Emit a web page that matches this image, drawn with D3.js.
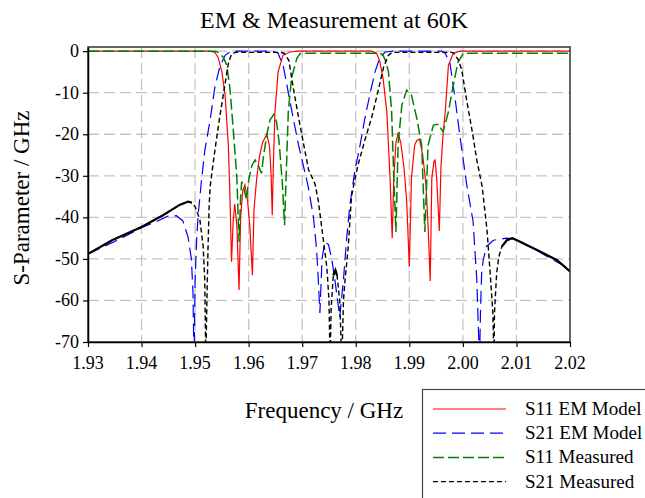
<!DOCTYPE html>
<html>
<head>
<meta charset="utf-8">
<script src="https://cdn.jsdelivr.net/npm/d3@7"></script>
<style>
  body { margin: 0; background: #fff; }
  svg { display: block; }
  text { font-family: "Liberation Serif", "Times New Roman", serif; fill: #000; }
</style>
</head>
<body>
<div id="chart"></div>
<script>
// tick values
var xTicks = [1.93, 1.94, 1.95, 1.96, 1.97, 1.98, 1.99, 2.00, 2.01, 2.02];
var yTicks = [0, -10, -20, -30, -40, -50, -60, -70];

// [frequency GHz, dB]
var s11Em = [[1.9300,0],[1.9525,0],[1.9532,-0.1],[1.9537,-0.3],[1.9543,-1.5],[1.9550,-5],[1.9556,-10.6],[1.9562,-22.6],[1.9565,-34.6],[1.9568,-50.7],[1.9571,-41],[1.9574,-36.8],[1.9578,-42],[1.9582,-57.5],[1.9585,-40],[1.9589,-33.5],[1.9593,-32.2],[1.9598,-36],[1.9602,-42],[1.9607,-53.9],[1.9610,-38],[1.9615,-30.6],[1.9620,-25.5],[1.9626,-22],[1.9634,-20],[1.9639,-23],[1.9642,-30],[1.9644,-39.5],[1.9646,-28],[1.9649,-14.7],[1.9655,-5],[1.9664,-1],[1.9677,-0.2],[1.9690,0],[1.9830,0],[1.9839,-0.5],[1.9845,-2.5],[1.9851,-6.6],[1.9858,-14.6],[1.9864,-30.5],[1.9868,-45],[1.9871,-30.5],[1.9875,-22],[1.9879,-19.8],[1.9884,-22],[1.9890,-28],[1.9895,-36],[1.9900,-51.9],[1.9904,-30.5],[1.9910,-22.6],[1.9914,-21.5],[1.9919,-21.2],[1.9925,-25],[1.9931,-32],[1.9935,-42],[1.9939,-55.3],[1.9942,-30.5],[1.9946,-26.5],[1.9948,-26.2],[1.9951,-30.5],[1.9956,-43.3],[1.9959,-28],[1.9963,-20],[1.9967,-14.6],[1.9973,-3.4],[1.9982,-0.5],[1.9995,0],[2.0200,0]];

var s21Em = [[1.9300,-48.8],[1.9350,-45.8],[1.9400,-42.5],[1.9428,-41],[1.9449,-39.7],[1.9465,-39.6],[1.9477,-40.8],[1.9487,-44.8],[1.9493,-50],[1.9496,-58],[1.9498,-75],[1.9500,-55],[1.9503,-45],[1.9506,-39],[1.9512,-31],[1.9518,-24],[1.9528,-16.6],[1.9537,-8.6],[1.9546,-3.8],[1.9556,-1],[1.9565,-0.2],[1.9575,0],[1.9645,0],[1.9655,-0.5],[1.9665,-3.8],[1.9674,-10],[1.9683,-16],[1.9693,-22.5],[1.9702,-27.5],[1.9711,-32.5],[1.9721,-40],[1.9727,-48],[1.9730,-55],[1.9733,-63],[1.9737,-50],[1.9742,-46],[1.9749,-46.5],[1.9755,-50],[1.9761,-55],[1.9770,-64],[1.9777,-55],[1.9783,-45],[1.9789,-37],[1.9798,-29],[1.9808,-22.6],[1.9817,-16.2],[1.9827,-10],[1.9836,-5],[1.9845,-1.5],[1.9855,-0.2],[1.9870,0],[1.9960,0],[1.9967,-0.5],[1.9976,-3],[1.9985,-11],[1.9994,-20],[2.0007,-32],[2.0019,-41],[2.0026,-55],[2.0031,-75],[2.0033,-62],[2.0035,-53.5],[2.0038,-50.3],[2.0044,-47],[2.0057,-45.5],[2.0082,-45],[2.0095,-45.2],[2.0125,-47],[2.0169,-50.3],[2.0200,-52.5]];

var s11Meas = [[1.9300,0],[1.9538,0],[1.9543,-0.3],[1.9553,-1.5],[1.9559,-3.4],[1.9565,-8.9],[1.9571,-18.5],[1.9578,-30.5],[1.9582,-45.9],[1.9585,-35],[1.9587,-31.4],[1.9590,-32.5],[1.9596,-35.8],[1.9600,-31],[1.9606,-27.5],[1.9612,-26.2],[1.9618,-27.5],[1.9624,-29.4],[1.9628,-25],[1.9634,-20],[1.9640,-16.5],[1.9647,-15.2],[1.9652,-17],[1.9657,-22],[1.9663,-32],[1.9667,-41.9],[1.9670,-30],[1.9674,-14.6],[1.9680,-6.5],[1.9690,-1.7],[1.9696,-0.6],[1.9710,-0.5],[1.9845,-0.5],[1.9851,-1],[1.9856,-2.5],[1.9861,-5],[1.9867,-14.6],[1.9871,-30.5],[1.9875,-43.5],[1.9879,-22.6],[1.9886,-13],[1.9895,-9.4],[1.9904,-10.6],[1.9914,-16.2],[1.9923,-22.6],[1.9929,-43.5],[1.9935,-22.6],[1.9945,-17.8],[1.9954,-17.6],[1.9963,-19.4],[1.9973,-14.6],[1.9982,-8.2],[1.9991,-2.6],[2.0001,-0.5],[2.0200,-0.5]];

var s21Meas = [[1.9300,-48.8],[1.9345,-45.5],[1.9400,-42.3],[1.9440,-39.5],[1.9471,-37],[1.9487,-36.2],[1.9494,-36.5],[1.9500,-37.4],[1.9509,-40.6],[1.9515,-47],[1.9518,-55],[1.9520,-75],[1.9522,-60],[1.9524,-48],[1.9526,-38],[1.9528,-32.6],[1.9537,-23.8],[1.9546,-15.8],[1.9556,-7.8],[1.9562,-3],[1.9568,-0.7],[1.9575,-0.3],[1.9660,-0.3],[1.9666,-0.5],[1.9675,-2.2],[1.9684,-9.4],[1.9693,-15.8],[1.9702,-22],[1.9712,-28.6],[1.9724,-32],[1.9730,-36],[1.9735,-41],[1.9740,-46],[1.9746,-52],[1.9750,-60],[1.9752,-75],[1.9754,-62],[1.9758,-54],[1.9762,-52.7],[1.9765,-54],[1.9770,-60],[1.9774,-75],[1.9777,-60],[1.9780,-55],[1.9786,-47],[1.9792,-35],[1.9798,-31],[1.9805,-27],[1.9817,-21.4],[1.9830,-15.8],[1.9842,-9.4],[1.9852,-3.8],[1.9861,-1],[1.9868,-0.3],[1.9980,-0.3],[1.9983,-0.5],[1.9992,-2.2],[1.9998,-4.6],[2.0007,-11.8],[2.0017,-19],[2.0026,-26.2],[2.0036,-32.6],[2.0045,-43],[2.0051,-53.5],[2.0056,-63],[2.0058,-75],[2.0059,-63],[2.0063,-53.5],[2.0067,-49.5],[2.0073,-47],[2.0082,-45.5],[2.0092,-45],[2.0101,-45.5],[2.0120,-46.7],[2.0145,-48.3],[2.0176,-50.3],[2.0200,-53]];

var seriesNames = ["S11 EM Model", "S21 EM Model", "S11 Measured", "S21 Measured"];

function draw() {
    var width = 645, height = 498;
    var plot = {left: 88, right: 570, top: 47, bottom: 342};

    var svg = d3.select("#chart").append("svg")
        .attr("width", width)
        .attr("height", height);

    svg.append("rect").attr("width", width).attr("height", height).attr("fill", "#fff");

    var xScale = d3.scaleLinear().domain([1.93, 2.02]).range([plot.left, plot.right]);
    var yScale = d3.scaleLinear().domain([-70, 1]).range([plot.bottom, plot.top]);

    svg.append("defs").append("clipPath").attr("id", "clip")
        .append("rect")
        .attr("x", plot.left).attr("y", plot.top)
        .attr("width", plot.right - plot.left).attr("height", plot.bottom - plot.top);

    // grid
    var grid = svg.append("g").attr("stroke", "#c4c4c4").attr("stroke-width", 1.3).attr("stroke-dasharray", "11,5");
    grid.selectAll(".vg").data(xTicks.slice(1, -1)).enter().append("line")
        .attr("x1", function(d) { return xScale(d); }).attr("x2", function(d) { return xScale(d); })
        .attr("y1", plot.top).attr("y2", plot.bottom);
    grid.selectAll(".hg").data(yTicks.slice(0, -1)).enter().append("line")
        .attr("x1", plot.left).attr("x2", plot.right)
        .attr("y1", function(d) { return yScale(d); }).attr("y2", function(d) { return yScale(d); });

    var line = d3.line()
        .x(function(d) { return xScale(d[0]); })
        .y(function(d) { return yScale(d[1]); });

    var styles = [
        {data: s11Em, color: "#ff0000", dash: null, w: 1.2},
        {data: s21Em, color: "#0000ff", dash: "13,6", w: 1.2},
        {data: s11Meas, color: "#008000", dash: "11,4", w: 1.5},
        {data: s21Meas, color: "#000000", dash: "5,3", w: 1.4}
    ];

    var lines = svg.append("g").attr("clip-path", "url(#clip)");
    styles.forEach(function(s) {
        lines.append("path")
            .datum(s.data)
            .attr("fill", "none")
            .attr("stroke", s.color)
            .attr("stroke-width", s.w)
            .attr("stroke-dasharray", s.dash)
            .attr("d", line);
    });

    // measured S21 is noisy in the stopbands, it reads as a thick solid trace there
    var noisy = d3.line()
        .defined(function(d) { return d[0] <= 1.9495 || d[0] >= 2.0068 || (d[0] >= 1.9756 && d[0] <= 1.9768); })
        .x(function(d) { return xScale(d[0]); })
        .y(function(d) { return yScale(d[1]); });
    lines.append("path")
        .datum(s21Meas)
        .attr("fill", "none")
        .attr("stroke", "#000")
        .attr("stroke-width", 2.2)
        .attr("d", noisy);

    // frame
    svg.append("rect")
        .attr("x", plot.left).attr("y", plot.top)
        .attr("width", plot.right - plot.left).attr("height", plot.bottom - plot.top)
        .attr("fill", "none").attr("stroke", "#333").attr("stroke-width", 1.5);

    // axes (tick marks from d3, labels drawn separately so they take the serif face)
    var xAxis = svg.append("g")
        .attr("transform", "translate(0," + plot.bottom + ")")
        .call(d3.axisBottom(xScale).tickValues(xTicks).tickSize(5).tickSizeOuter(0).tickFormat(""));
    var yAxis = svg.append("g")
        .attr("transform", "translate(" + plot.left + ",0)")
        .call(d3.axisLeft(yScale).tickValues(yTicks).tickSize(5).tickSizeOuter(0).tickFormat(""));
    [xAxis, yAxis].forEach(function(a) {
        a.select(".domain").attr("stroke", "#000").attr("stroke-width", 1.5);
        a.selectAll(".tick line").attr("stroke", "#000").attr("stroke-width", 1.2);
        a.selectAll(".tick text").remove();
    });

    var fmt = d3.format(".2f");
    svg.append("g").selectAll("text").data(xTicks).enter().append("text")
        .attr("x", function(d) { return xScale(d); })
        .attr("y", plot.bottom + 27)
        .attr("text-anchor", "middle")
        .style("font-size", "18px")
        .text(function(d) { return fmt(d); });
    svg.append("g").selectAll("text").data(yTicks).enter().append("text")
        .attr("x", plot.left - 9)
        .attr("y", function(d) { return yScale(d) + 6; })
        .attr("text-anchor", "end")
        .style("font-size", "18px")
        .text(function(d) { return String(d); });

    // titles
    svg.append("text")
        .attr("x", 334).attr("y", 28)
        .attr("text-anchor", "middle")
        .style("font-size", "24px")
        .text("EM & Measurement at 60K");
    svg.append("text")
        .attr("text-anchor", "middle")
        .attr("transform", "translate(29,198)rotate(-90)")
        .style("font-size", "23px")
        .text("S-Parameter / GHz");
    svg.append("text")
        .attr("x", 324).attr("y", 418)
        .attr("text-anchor", "middle")
        .style("font-size", "23px")
        .text("Frequency / GHz");

    // legend
    var legend = svg.append("g");
    legend.append("rect")
        .attr("x", 422.5).attr("y", 389.5)
        .attr("width", 240).attr("height", 120)
        .attr("fill", "#fff").attr("stroke", "#444").attr("stroke-width", 1.2);
    styles.forEach(function(s, i) {
        var yy = 409 + i * 24.2;
        legend.append("line")
            .attr("x1", 433).attr("x2", 506)
            .attr("y1", yy).attr("y2", yy)
            .attr("stroke", s.color)
            .attr("stroke-width", s.w)
            .attr("stroke-dasharray", s.dash);
        legend.append("text")
            .attr("x", 525).attr("y", yy + 6)
            .style("font-size", "19px")
            .text(seriesNames[i]);
    });
}

draw();
</script>
</body>
</html>
